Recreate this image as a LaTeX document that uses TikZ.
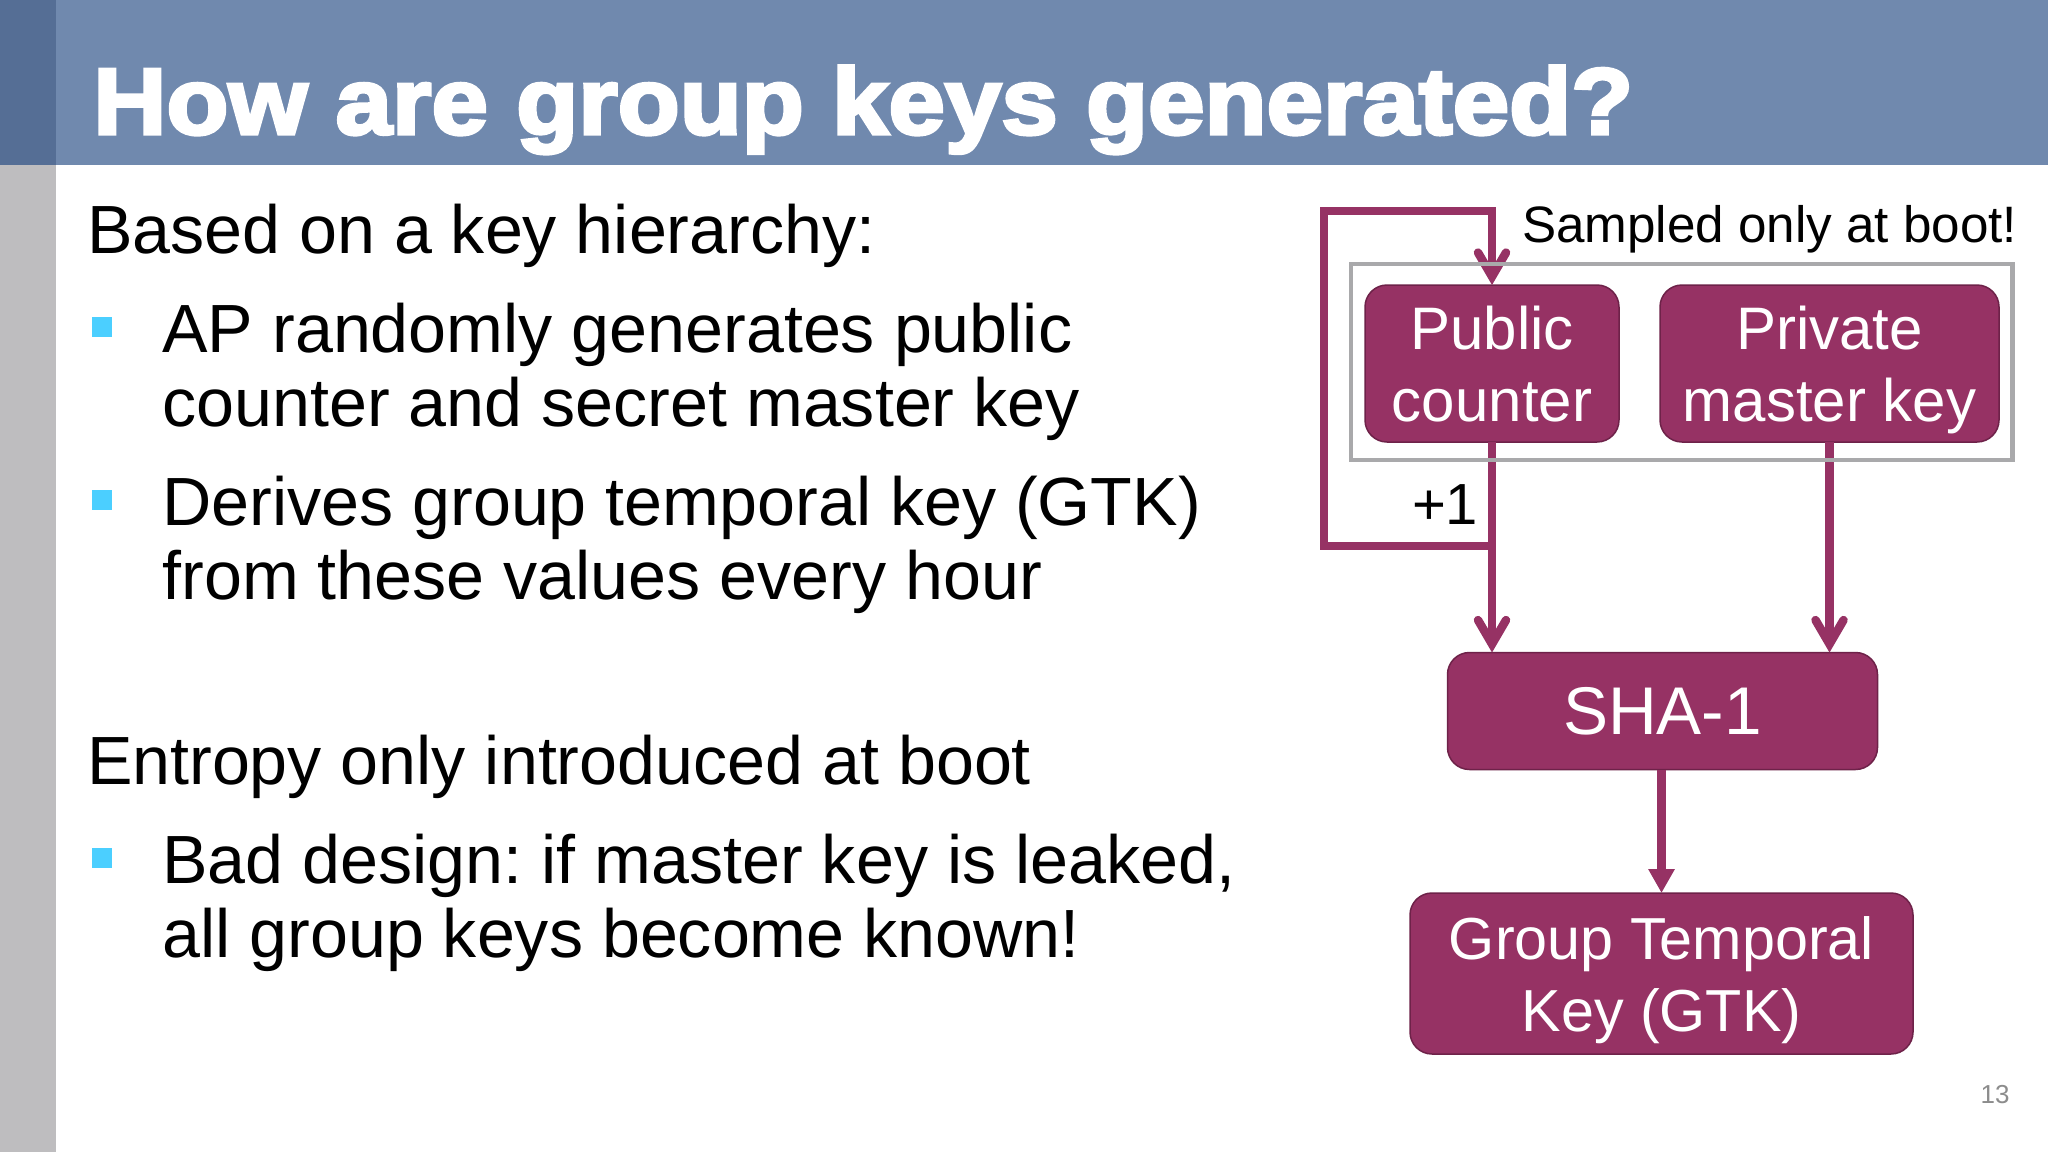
\documentclass[tikz,border=0pt]{standalone}
\usepackage{fontspec}
\setmainfont{Liberation Sans}
\newfontface\titlefont{Liberation Sans Bold}[FakeBold=3.6,FakeStretch=1.08]
\usetikzlibrary{arrows.meta}
\frenchspacing
\definecolor{hdr}{HTML}{7089AE}
\definecolor{hdrdark}{HTML}{556E95}
\definecolor{sidebar}{HTML}{BEBDBF}
\definecolor{plum}{HTML}{963264}
\definecolor{plumedge}{HTML}{6E2249}
\definecolor{framegray}{HTML}{A9A9AB}
\definecolor{bulletblue}{HTML}{4BCFFF}
\newcommand{\toplbl}[1]{\rule{0pt}{44.7pt}\smash{#1}}
\newcommand{\botlbl}[1]{\smash{#1}}
\tikzset{
  body/.style={anchor=base west,inner sep=0pt,outer sep=0pt,text=black,font=\fontsize{68.2}{74}\selectfont},
  keybox/.style={draw=plumedge,line width=1.5pt,fill=plum,rounded corners=22pt,text=white,inner sep=0pt,outer sep=0pt,align=center,font=\fontsize{60}{72}\selectfont},
  frame/.style={draw=framegray,line width=4.5pt,inner sep=0pt,outer sep=0pt},
  conn/.style={draw=plum,line width=8.5pt,line join=miter},
  vhead/.style={-{Straight Barb[length=24pt,width=28pt,line width=8.5pt,line cap=round,line join=miter]}},
  bullet/.style={fill=bulletblue,inner sep=0pt,outer sep=0pt,minimum size=20pt},
  note/.style={inner sep=0pt,outer sep=0pt,text=black,anchor=base west},
}
\begin{document}
\begin{tikzpicture}[x=1pt,y=-1pt]
\useasboundingbox (0,0) rectangle (2048,1152);
\fill[white] (0,0) rectangle (2048,1152);
\fill[sidebar] (0,165) rectangle (56,1152);
\fill[hdr] (56,0) rectangle (2048,165);
\fill[hdrdark] (0,0) rectangle (56,165);
\node[anchor=base west,inner sep=0pt,text=white,font=\titlefont\fontsize{94}{100}\selectfont] (title) at (93,134) {How are group keys generated?};

\node[body] (t1) at (87,253) {Based on a key hierarchy:};
\node[bullet] (b1) at (102,327) {};
\node[body] (t2) at (162.5,352) {AP randomly generates public};
\node[body] (t3) at (162.5,426) {counter and secret master key};
\node[bullet] (b2) at (102,500) {};
\node[body] (t4) at (162.5,525) {Derives group temporal key (GTK)};
\node[body] (t5) at (162.5,599) {from these values every hour};
\node[body] (t6) at (87,784) {Entropy only introduced at boot};
\node[bullet] (b3) at (102,858) {};
\node[body] (t7) at (162.5,883) {Bad design: if master key is leaked,};
\node[body] (t8) at (162.5,957) {all group keys become known!};

\node[keybox,minimum width=254pt,minimum height=157pt] (pub) at (1492,363.5) {\toplbl{Public}\\\botlbl{counter}};
\node[keybox,minimum width=339pt,minimum height=157pt] (priv) at (1829.5,363.5) {\toplbl{Private}\\\botlbl{master key}};
\node[keybox,minimum width=430pt,minimum height=117pt,font=\fontsize{67.5}{72}\selectfont] (sha) at (1662.5,711) {SHA-1};
\node[keybox,minimum width=503pt,minimum height=161pt,font=\fontsize{59.3}{72}\selectfont] (gtk) at (1661.5,973.5) {\toplbl{Group Temporal}\\\botlbl{Key (GTK)}};

\coordinate (joinpt) at (1492,546);
\coordinate (lowleft) at (1324,546);
\coordinate (upleft) at (1324,211);
\coordinate (upright) at (1492,211);

\draw[conn,vhead] (pub.south) -- (pub.south |- sha.north);
\draw[conn,vhead] (priv.south) -- (priv.south |- sha.north);
\draw[conn,-{Triangle[length=24pt,width=25pt]}] (sha.south -| gtk.north) -- (gtk.north);
\draw[conn,vhead] (joinpt) -- (lowleft) -- (upleft) -- (upright) -- (pub.north);

\node[frame,minimum width=661.5pt,minimum height=196pt] (group) at (1681.75,362) {};

\node[note,font=\fontsize{51.2}{56}\selectfont] (samp) at (1522,242.5) {Sampled only at boot!};
\node[note,font=\fontsize{58}{60}\selectfont] (plus) at (1412,524) {+1};
\node[note,anchor=base,text=black!45,font=\fontsize{26}{28}\selectfont] (pg) at (1995,1103) {13};
\end{tikzpicture}
\end{document}
